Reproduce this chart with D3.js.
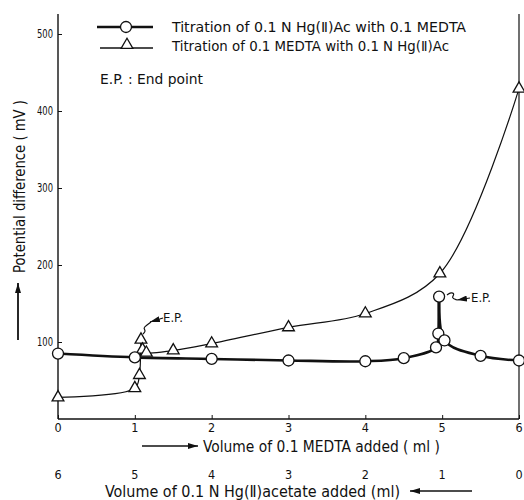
<!DOCTYPE html>
<html><head><meta charset="utf-8">
<script src="https://cdn.jsdelivr.net/npm/d3@7"></script>
<style>body{margin:0;background:#fff}svg{display:block}text{font-family:"Liberation Sans Narrow","DejaVu Sans Condensed","Liberation Sans",sans-serif;fill:#111}</style>
</head><body><svg id="c" width="524" height="500"></svg>
<script>
// Series A: Titration of 0.1 N Hg(II)Ac with 0.1 MEDTA (circles)
const circX = [0, 1, 2, 3, 4, 4.5, 4.92, 4.95, 4.96, 5.03, 5.5, 6];
const circY = [85, 80, 78, 76, 75, 79, 93, 111, 159, 102, 82, 76];
// Series B: Titration of 0.1 MEDTA with 0.1 N Hg(II)Ac (triangles)
const triX = [0, 1.0, 1.06, 1.08, 1.1, 1.15, 1.5, 2, 3, 4, 4.97, 6];
const triY = [28, 40, 57, 103, 90, 86, 89, 98, 119, 137, 189, 429];
const xTicks = [0, 1, 2, 3, 4, 5, 6];
const xTicks2 = ["6", "5", "4", "3", "2", "1", "0"];
const yTicks = [100, 200, 300, 400, 500];
const legendLabels = ["Titration of 0.1 N Hg(Ⅱ)Ac with 0.1 MEDTA", "Titration of 0.1 MEDTA with 0.1 N Hg(Ⅱ)Ac"];
const epNote = "E.P. : End point";
const xTitle = "Volume of 0.1 MEDTA added ( ml )";
const xTitle2 = "Volume of 0.1 N Hg(Ⅱ)acetate added (ml)";
const yTitle = "Potential difference ( mV )";

const svg = d3.select("#c");
const x = d3.scaleLinear().domain([0, 6]).range([58, 519]);
const y = d3.scaleLinear().domain([0, 500]).range([419, 34]);
const yTop = 526;

// axes
const yAxis = d3.axisRight(y).tickValues(yTicks).tickSize(4).tickFormat("");
const gy = svg.append("g").attr("transform", `translate(${x(0)},0)`).call(yAxis);
gy.select(".domain").remove();
gy.selectAll("line").attr("stroke", "#111");
svg.append("line").attr("x1", x(0)).attr("x2", x(0)).attr("y1", y(yTop)).attr("y2", y(0))
  .attr("stroke", "#111").attr("stroke-width", 1.4);
svg.append("line").attr("x1", x(6)).attr("x2", x(6)).attr("y1", y(yTop)).attr("y2", y(0))
  .attr("stroke", "#111").attr("stroke-width", 1.2);
svg.selectAll(".ylab").data(yTicks).join("text").attr("class", "ylab")
  .attr("x", x(0) - 5).attr("y", d => y(d) + 4).attr("text-anchor", "end")
  .attr("font-size", 12).attr("textLength", 16).attr("lengthAdjust", "spacingAndGlyphs").text(d => d);

const xAxis = d3.axisTop(x).tickValues(xTicks).tickSize(4).tickFormat("");
const gx = svg.append("g").attr("transform", `translate(0,${y(0)})`).call(xAxis);
gx.select(".domain").remove();
gx.selectAll("line").attr("stroke", "#111");
svg.append("line").attr("x1", x(0)).attr("x2", x(6)).attr("y1", y(0)).attr("y2", y(0))
  .attr("stroke", "#111").attr("stroke-width", 1.4);
svg.selectAll(".xlab").data(xTicks).join("text").attr("class", "xlab")
  .attr("x", d => x(d)).attr("y", y(0) + 13).attr("text-anchor", "middle")
  .attr("font-size", 12.5).text(d => d);
svg.selectAll(".xlab2").data(xTicks).join("text").attr("class", "xlab2")
  .attr("x", d => x(d)).attr("y", y(0) + 60).attr("text-anchor", "middle")
  .attr("font-size", 12.5).text((d, i) => xTicks2[i]);

// titles
svg.append("text").attr("x", 203).attr("y", 452).attr("font-size", 15)
  .attr("textLength", 237).attr("lengthAdjust", "spacingAndGlyphs").text(xTitle);
svg.append("text").attr("x", 105).attr("y", 497).attr("font-size", 15)
  .attr("textLength", 295).attr("lengthAdjust", "spacingAndGlyphs").text(xTitle2);
svg.append("text").attr("transform", "translate(25,273) rotate(-90)").attr("font-size", 15)
  .attr("textLength", 173).attr("lengthAdjust", "spacingAndGlyphs").text(yTitle);

const defs = svg.append("defs");
defs.append("marker").attr("id", "ah").attr("viewBox", "0 0 10 6").attr("refX", 10).attr("refY", 3)
  .attr("markerWidth", 10).attr("markerHeight", 6).attr("markerUnits", "userSpaceOnUse").attr("orient", "auto")
  .append("path").attr("d", "M0,0L10,3L0,6Z").attr("fill", "#111");
function arrow(x1, y1, x2, y2, w) {
  svg.append("line").attr("x1", x1).attr("y1", y1).attr("x2", x2).attr("y2", y2)
    .attr("stroke", "#111").attr("stroke-width", w || 1.5).attr("marker-end", "url(#ah)");
}
arrow(142, 446, 198, 446, 1.6);
arrow(472, 491, 410, 491, 1.6);
arrow(18, 340, 18, 283, 1.8);

// lines
const lineA = d3.line().x(d => x(d[0])).y(d => y(d[1])).curve(d3.curveCatmullRom.alpha(0.5));
const dataA = circX.map((v, i) => [v, circY[i]]);
const dataB = triX.map((v, i) => [v, triY[i]]);
svg.append("path").datum(dataB).attr("d", lineA).attr("fill", "none").attr("stroke", "#111").attr("stroke-width", 1.2);
svg.append("path").datum(dataA).attr("d", lineA).attr("fill", "none").attr("stroke", "#111").attr("stroke-width", 2.6);

const tri = d3.symbol().type(d3.symbolTriangle).size(60);
svg.selectAll(".tri").data(dataB).join("path").attr("class", "tri")
  .attr("transform", d => `translate(${x(d[0])},${y(d[1])})`).attr("d", tri)
  .attr("fill", "#fff").attr("stroke", "#111").attr("stroke-width", 1.3);
svg.selectAll(".circ").data(dataA).join("circle").attr("class", "circ")
  .attr("cx", d => x(d[0])).attr("cy", d => y(d[1])).attr("r", 5.5)
  .attr("fill", "#fff").attr("stroke", "#111").attr("stroke-width", 1.3);

// E.P. annotations
const sq = d3.line().curve(d3.curveBasis);
svg.append("path").attr("d", sq([[143, 334], [146, 331], [143, 328], [147, 325], [151, 322]]))
  .attr("fill", "none").attr("stroke", "#111").attr("stroke-width", 1.2);
arrow(163, 318, 150, 322, 1.2);
svg.append("text").attr("x", 163).attr("y", 322).attr("font-size", 13).text("E.P.");
svg.append("path").attr("d", sq([[447, 295], [451, 292], [455, 294], [451, 298], [457, 300]]))
  .attr("fill", "none").attr("stroke", "#111").attr("stroke-width", 1.2);
arrow(470, 298, 457, 300, 1.2);
svg.append("text").attr("x", 471).attr("y", 302).attr("font-size", 13).text("E.P.");

// legend
const lg = svg.append("g");
lg.append("line").attr("x1", 97).attr("x2", 153).attr("y1", 27).attr("y2", 27).attr("stroke", "#111").attr("stroke-width", 2.6);
lg.append("circle").attr("cx", 126).attr("cy", 27).attr("r", 5.5).attr("fill", "#fff").attr("stroke", "#111").attr("stroke-width", 1.3);
lg.append("line").attr("x1", 100).attr("x2", 153).attr("y1", 48).attr("y2", 48).attr("stroke", "#111").attr("stroke-width", 1.3);
lg.append("path").attr("transform", "translate(127,45)").attr("d", tri).attr("fill", "#fff").attr("stroke", "#111").attr("stroke-width", 1.3);
lg.append("text").attr("x", 172).attr("y", 32).attr("font-size", 14.5)
  .attr("textLength", 294).attr("lengthAdjust", "spacingAndGlyphs").text(legendLabels[0]);
lg.append("text").attr("x", 172).attr("y", 51).attr("font-size", 14.5)
  .attr("textLength", 277).attr("lengthAdjust", "spacingAndGlyphs").text(legendLabels[1]);
lg.append("text").attr("x", 100).attr("y", 84).attr("font-size", 14.5)
  .attr("textLength", 103).attr("lengthAdjust", "spacingAndGlyphs").text(epNote);
</script></body></html>
